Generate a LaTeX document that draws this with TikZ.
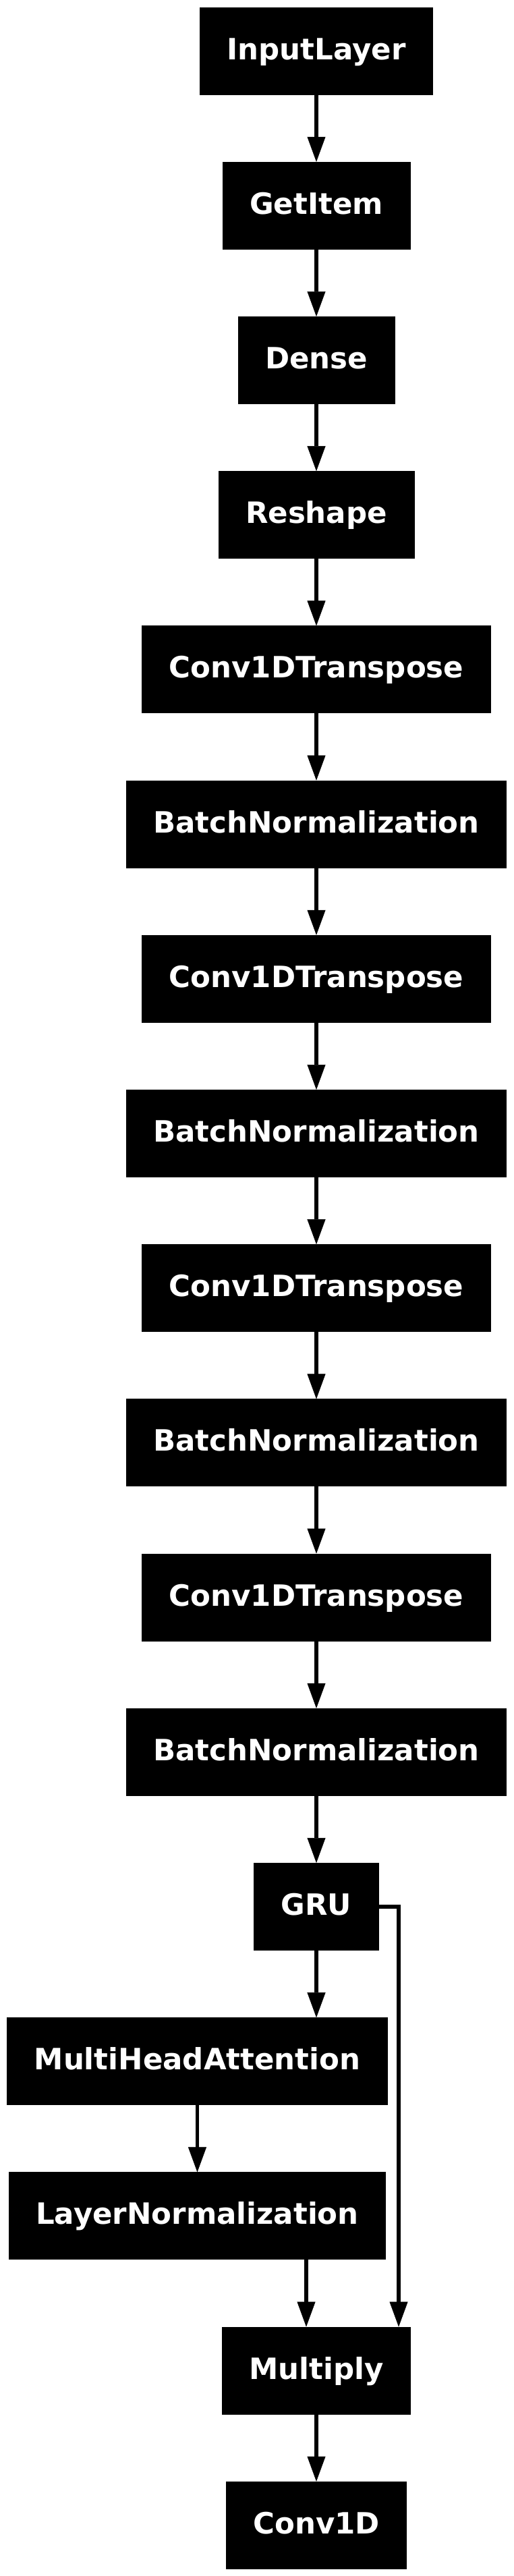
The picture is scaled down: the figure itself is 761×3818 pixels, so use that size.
\documentclass[tikz,border=0pt]{standalone}
\usepackage{fontspec}
\setmainfont{DejaVu Sans}
\usetikzlibrary{arrows.meta}

\begin{document}
\begin{tikzpicture}[x=1pt,y=1pt]
\tikzstyle{layer}=[rectangle,fill=black,draw=black,line width=0.8pt,text=white,font=\fontsize{43.5}{52}\selectfont\bfseries,inner xsep=40pt,inner ysep=0pt,minimum height=129pt,text height=35pt,text depth=10pt]
\tikzstyle{arr}=[-{Triangle[length=37pt,width=27pt,line width=0.5pt]},line width=5.5pt]
\useasboundingbox (0,0) rectangle (761,-3818);

\node[layer](input) at (469,-75.5) {InputLayer};
\node[layer](getitem) at (469,-304.7) {GetItem};
\node[layer](dense) at (469,-533.9) {Dense};
\node[layer](reshape) at (469,-763.1) {Reshape};
\node[layer](convt1) at (469,-992.3) {Conv1DTranspose};
\node[layer](bn1) at (469,-1221.5) {BatchNormalization};
\node[layer](convt2) at (469,-1450.7) {Conv1DTranspose};
\node[layer](bn2) at (469,-1679.9) {BatchNormalization};
\node[layer](convt3) at (469,-1909.1) {Conv1DTranspose};
\node[layer](bn3) at (469,-2138.3) {BatchNormalization};
\node[layer](convt4) at (469,-2367.5) {Conv1DTranspose};
\node[layer](bn4) at (469,-2596.7) {BatchNormalization};
\node[layer](gru) at (469,-2825.9) {GRU};
\node[layer](mha) at (292.5,-3055.1) {MultiHeadAttention};
\node[layer](lnorm) at (292.5,-3284.3) {LayerNormalization};
\node[layer](mul) at (469,-3513.5) {Multiply};
\node[layer](conv) at (469,-3742.7) {Conv1D};

\coordinate (lnfoot) at ([xshift=-15pt]mul.north);
\coordinate (skipfoot) at ([xshift=-18pt]mul.north east);

\draw[arr] (input) -- (getitem);
\draw[arr] (getitem) -- (dense);
\draw[arr] (dense) -- (reshape);
\draw[arr] (reshape) -- (convt1);
\draw[arr] (convt1) -- (bn1);
\draw[arr] (bn1) -- (convt2);
\draw[arr] (convt2) -- (bn2);
\draw[arr] (bn2) -- (convt3);
\draw[arr] (convt3) -- (bn3);
\draw[arr] (bn3) -- (convt4);
\draw[arr] (convt4) -- (bn4);
\draw[arr] (bn4) -- (gru);
\draw[arr] (gru.south) -- (gru.south |- mha.north);
\draw[arr] (mha) -- (lnorm);
\draw[arr] (lnorm.south -| lnfoot) -- (lnfoot);
\draw[arr] (gru.east) -| (skipfoot);
\draw[arr] (mul) -- (conv);
\end{tikzpicture}
\end{document}
